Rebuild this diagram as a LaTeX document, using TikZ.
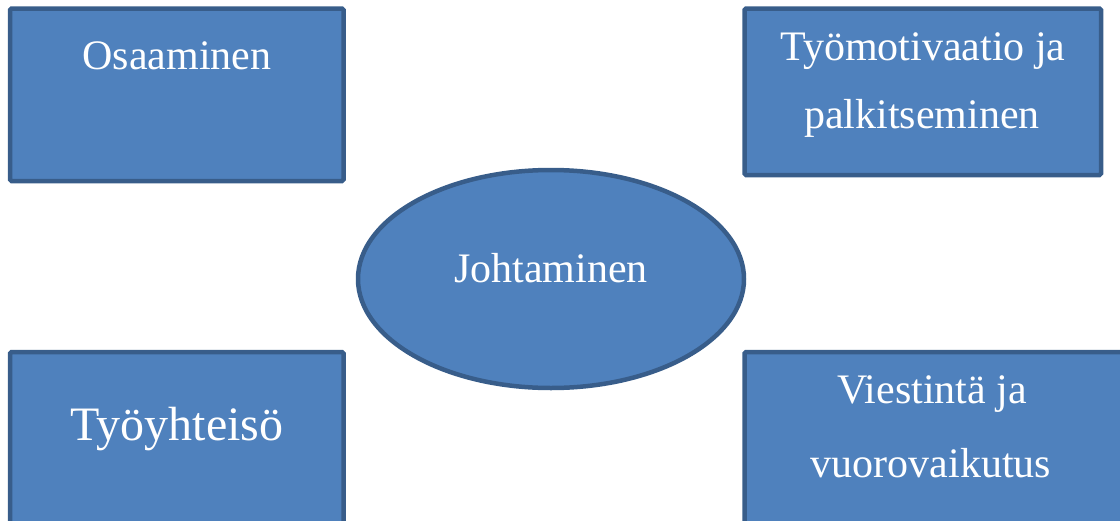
\documentclass[tikz,border=0pt]{standalone}
\usepackage{fontspec}
\setmainfont{Liberation Serif}
\usetikzlibrary{shapes.geometric}
\definecolor{boxfill}{HTML}{4F81BD}
\definecolor{boxline}{HTML}{385D8A}
\begin{document}
\begin{tikzpicture}[x=1pt,y=-1pt,
  shapebox/.style={draw=boxline, fill=boxfill, line width=4.5pt, rounded corners=1.5pt},
  lbl/.style={text=white, anchor=base, inner sep=0pt, font=\fontsize{42}{50}\selectfont},
  biglbl/.style={lbl, font=\fontsize{48}{56}\selectfont}]
\useasboundingbox (0,0) rectangle (1120,520);
\clip (0,0) rectangle (1120,520);
% boxes
\draw[shapebox] (10,8.5) rectangle (343.5,181);
\draw[shapebox] (744.5,8.5) rectangle (1101,175);
\draw[shapebox] (10,352) rectangle (343.5,545);
\draw[shapebox] (744.5,352) rectangle (1135,545);
\node[draw=boxline, fill=boxfill, line width=4.5pt, ellipse, minimum width=386pt, minimum height=218pt, inner sep=0pt] (lead) at (551,279) {};
% texts
\node[lbl] (osa) at (177,69.5) {Osaaminen};
\node[lbl] (tm1) at (923,60) {Työmotivaatio ja};
\node[lbl] (tm2) at (922,128) {palkitseminen};
\node[lbl] (joh) at (551,282) {Johtaminen};
\node[biglbl] (ty) at (177,440) {Työyhteisö};
\node[lbl] (vi1) at (932,403) {Viestintä ja};
\node[lbl] (vi2) at (931,477) {vuorovaikutus};
\end{tikzpicture}
\end{document}
